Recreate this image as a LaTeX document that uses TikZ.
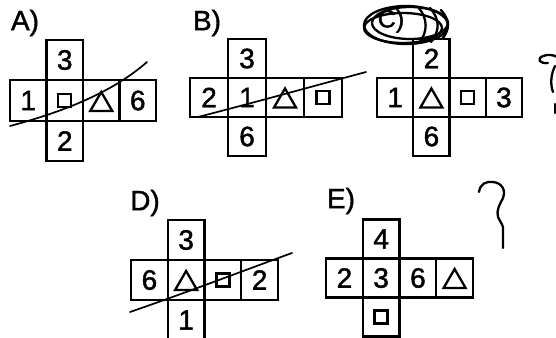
\documentclass[tikz,border=0pt]{standalone}
\usepackage{fontspec}
\setmainfont{Liberation Sans}[FakeBold=1.5]
\begin{document}
\begin{tikzpicture}[x=1pt,y=-1pt,
  cell/.style={draw, line width=2.2pt, minimum width=36.5pt, minimum height=40pt, inner sep=0pt, font=\fontsize{28}{28}\selectfont},
  lbl/.style={font=\fontsize{28}{28}\selectfont, inner sep=0pt},
  slash/.style={line width=1.7pt, line cap=round},
  pen/.style={line width=2.3pt, line cap=round, line join=round},
  tri/.pic={\draw[line width=2.3pt, line join=miter] (-11,9) -- (11,9) -- (0,-10) -- cycle;},
  sq/.pic={\draw[line width=2.4pt] (-6.5,-6.5) rectangle (6.5,6.5);}
]
\useasboundingbox (0,0) rectangle (556,337);

% ---------- A ----------
\node[lbl] (labA) at (25,23) {A)};
\begin{scope}[cell/.append style={minimum width=36.5pt, minimum height=40.5pt}]
\node[cell] (a1) at (64.75,60) {3};
\node[cell] (a2) at (28.25,100.5) {1};
\node[cell] (a3) at (64.75,100.5) {};
\node[cell] (a4) at (101.25,100.5) {};
\node[cell] (a5) at (137.75,100.5) {6};
\node[cell] (a6) at (64.75,141) {2};
\end{scope}
\pic at (a3.center) {sq};
\pic at ([yshift=-1.5pt]a4.center) {tri};
\coordinate (sa1) at (10,126);
\coordinate (sa2) at (147,62);
\draw[slash] (sa1) .. controls (70,110) and (115,90) .. (sa2);

% ---------- B ----------
\node[lbl] (labB) at (207,23) {B)};
\begin{scope}[cell/.append style={minimum width=38pt, minimum height=39pt}]
\node[cell] (b1) at (247,58.5) {3};
\node[cell] (b2) at (209,97.5) {2};
\node[cell] (b3) at (247,97.5) {1};
\node[cell] (b4) at (285,97.5) {};
\node[cell] (b5) at (323,97.5) {};
\node[cell] (b6) at (247,136.5) {6};
\end{scope}
\pic at ([yshift=-1pt]b4.center) {tri};
\pic at (b5.center) {sq};
\coordinate (sb1) at (198,117);
\coordinate (sb2) at (366,72);
\draw[slash] (sb1) .. controls (260,101) and (310,87) .. (sb2);

% ---------- C ----------
\node[lbl, font=\fontsize{25}{25}\selectfont] (labC) at (391,21) {C)};
\draw[pen] (406,25) ellipse [x radius=42, y radius=19];
\draw[pen] (410,23) ellipse [x radius=38, y radius=16];
\draw[pen] (403,28) ellipse [x radius=39, y radius=15];
\draw[pen] (418,7) .. controls (428,18) and (428,32) .. (419,43);
\draw[pen] (430,8) .. controls (440,19) and (440,31) .. (431,42);
\draw[pen] (441,10) .. controls (450,20) and (450,30) .. (442,39);
\begin{scope}[cell/.append style={minimum width=36.25pt, minimum height=39pt}]
\node[cell] (c1) at (431.4,58.5) {2};
\node[cell] (c2) at (395.1,97.5) {1};
\node[cell] (c3) at (431.4,97.5) {};
\node[cell] (c4) at (467.6,97.5) {};
\node[cell] (c5) at (503.9,97.5) {3};
\node[cell] (c6) at (431.4,136.5) {6};
\end{scope}
\pic at ([yshift=-1pt]c3.center) {tri};
\pic at (c4.center) {sq};
\draw[pen] (548,63) .. controls (540,64) and (536,59) .. (543,56) .. controls (548,54) and (554,55) .. (557,57);
\draw[pen] (555,66) .. controls (551,74) and (550,84) .. (553,92);
\draw[pen] (555,104) -- (555,113);

% ---------- D ----------
\node[lbl] (labD) at (145,203) {D)};
\begin{scope}[cell/.append style={minimum width=36.75pt, minimum height=40pt}]
\node[cell] (d1) at (186.1,240) {3};
\node[cell] (d2) at (149.4,280) {6};
\node[cell] (d3) at (186.1,280) {};
\node[cell] (d4) at (222.9,280) {};
\node[cell] (d5) at (259.6,280) {2};
\node[cell] (d6) at (186.1,320) {1};
\end{scope}
\pic at ([yshift=-1pt]d3.center) {tri};
\pic at (d4.center) {sq};
\coordinate (sd1) at (130,312);
\coordinate (sd2) at (292,253);
\draw[slash] (sd1) .. controls (185,293) and (240,272) .. (sd2);

% ---------- E ----------
\node[lbl] (labE) at (341,201) {E)};
\begin{scope}[cell/.append style={minimum width=36.75pt, minimum height=39pt}]
\node[cell] (e1) at (381.1,239) {4};
\node[cell] (e2) at (344.4,278) {2};
\node[cell] (e3) at (381.1,278) {3};
\node[cell] (e4) at (417.9,278) {6};
\node[cell] (e5) at (454.6,278) {};
\node[cell] (e6) at (381.1,317) {};
\end{scope}
\pic at ([yshift=-1pt]e5.center) {tri};
\pic at (e6.center) {sq};
\draw[pen] (479,192) .. controls (480,184) and (486,181) .. (493,182) .. controls (502,183) and (506,190) .. (503,198) .. controls (500,204) and (496,210) .. (498,217) .. controls (500,222) and (504,225) .. (503,231) -- (503,248);
\end{tikzpicture}
\end{document}
